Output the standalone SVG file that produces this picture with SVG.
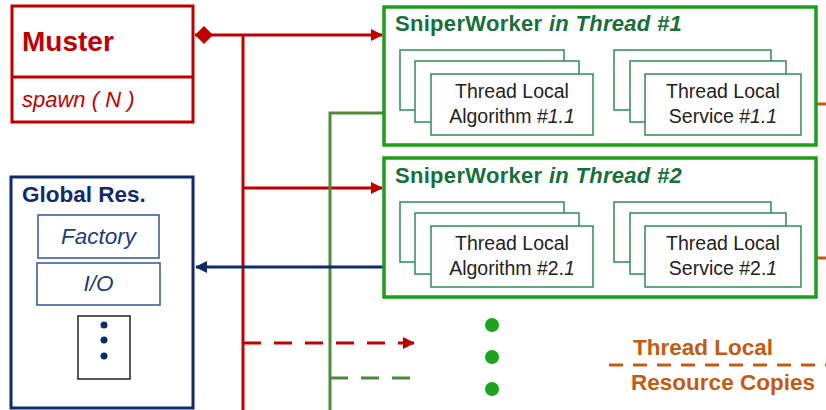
<svg xmlns="http://www.w3.org/2000/svg" width="826" height="410" viewBox="0 0 826 410">
  <style>
    text { font-family: "Liberation Sans", Arial, sans-serif; }
    .red { stroke: #c00000; stroke-width: 3; fill: none; }
    .muster { fill: #fff; stroke: #c00000; stroke-width: 3; }
    .glob { fill: #fff; stroke: #0f2b6b; stroke-width: 3; }
    .gitem { fill: #fff; stroke: #2f5597; stroke-width: 1.5; }
    .worker { fill: #fff; stroke: #1ca01c; stroke-width: 3.5; }
    .tl { fill: #fff; stroke: #2e8b57; stroke-width: 1.5; }
    .tltext { font-size: 19.5px; fill: #222; text-anchor: middle; }
    .wtitle { font-size: 22px; font-weight: bold; fill: #17703a; letter-spacing: 0.3px; }
    .orange { stroke: #c55a11; stroke-width: 3; fill: none; }
    .olive { stroke: #4e8a3a; stroke-width: 3; fill: none; }
    .navy { stroke: #0f2b6b; stroke-width: 3; fill: none; }
  </style>
  <defs>
    <marker id="ahRed" markerWidth="12" markerHeight="12" refX="11" refY="6" orient="auto" markerUnits="userSpaceOnUse">
      <path d="M0,0 L12,6 L0,12 z" fill="#c00000"/>
    </marker>
    <marker id="ahNavy" markerWidth="12" markerHeight="12" refX="11" refY="6" orient="auto" markerUnits="userSpaceOnUse">
      <path d="M0,0 L12,6 L0,12 z" fill="#0f2b6b"/>
    </marker>
    <marker id="diamond" markerWidth="20" markerHeight="20" refX="1" refY="10" orient="auto" markerUnits="userSpaceOnUse">
      <path d="M1,10 L10,1 L19,10 L10,19 z" fill="#c00000"/>
    </marker>
  </defs>

  <!-- connectors -->
  <g id="connectors">
    <line class="red" x1="195" y1="35" x2="382" y2="35" marker-start="url(#diamond)" marker-end="url(#ahRed)"/>
    <line class="red" x1="243" y1="35" x2="243" y2="410"/>
    <line class="red" x1="243" y1="188" x2="382" y2="188" marker-end="url(#ahRed)"/>
    <line class="red" x1="243" y1="343" x2="414" y2="343" stroke-dasharray="18,13" marker-end="url(#ahRed)"/>
    <polyline class="olive" points="384,113 330,113 330,410"/>
    <line class="olive" x1="330" y1="378" x2="410" y2="378" stroke-dasharray="18,13"/>
    <line class="navy" x1="383" y1="267" x2="196" y2="267" marker-end="url(#ahNavy)"/>
    <line class="orange" x1="801" y1="104" x2="826" y2="104"/>
    <line class="orange" x1="801" y1="258" x2="826" y2="258"/>
    <line class="orange" x1="609" y1="365" x2="826" y2="365" stroke-dasharray="14,10"/>
  </g>

  <!-- Muster -->
  <g id="muster">
    <rect class="muster" x="12" y="6" width="181" height="116"/>
    <line x1="12" y1="77" x2="193" y2="77" stroke="#c00000" stroke-width="3"/>
    <text x="22" y="51" font-size="28" font-weight="bold" fill="#c00000">Muster</text>
    <text x="22" y="107" font-size="22" font-style="italic" fill="#c00000">spawn ( N )</text>
  </g>

  <!-- Global resources -->
  <g id="global-res">
    <rect class="glob" x="11" y="177" width="182" height="231"/>
    <text x="22" y="202" font-size="22.5" font-weight="bold" fill="#0f2b6b">Global Res.</text>
    <g id="factory">
      <rect class="gitem" x="38" y="215" width="121" height="43"/>
      <text x="98.5" y="244" font-size="22.5" font-style="italic" fill="#1f3c7a" text-anchor="middle">Factory</text>
    </g>
    <g id="io">
      <rect class="gitem" x="37" y="263" width="123" height="42"/>
      <text x="98.5" y="291" font-size="22.5" font-style="italic" fill="#1f3c7a" text-anchor="middle">I/O</text>
    </g>
    <g id="more">
      <rect x="78" y="316" width="52" height="63" fill="#fff" stroke="#222" stroke-width="1.5"/>
      <circle cx="104" cy="325" r="3.5" fill="#0f2b6b"/>
      <circle cx="104" cy="340" r="3.5" fill="#0f2b6b"/>
      <circle cx="104" cy="356" r="3.5" fill="#0f2b6b"/>
    </g>
  </g>

  <!-- Worker thread 1 -->
  <g id="worker1">
    <rect class="worker" x="384" y="7" width="432" height="138"/>
    <text class="wtitle" x="395" y="31">SniperWorker <tspan font-style="italic">in Thread #1</tspan></text>
    <g id="alg1">
      <rect class="tl" x="400" y="50" width="164" height="60"/>
      <rect class="tl" x="415" y="61" width="164" height="61"/>
      <rect class="tl" x="431" y="74" width="162" height="61"/>
      <text class="tltext" x="512" y="98">Thread Local</text>
      <text class="tltext" x="512" y="123">Algorithm #<tspan font-style="italic">1.1</tspan></text>
    </g>
    <g id="svc1">
      <rect class="tl" x="614" y="50" width="157" height="60"/>
      <rect class="tl" x="630" y="61" width="156" height="61"/>
      <rect class="tl" x="645" y="74" width="156" height="61"/>
      <text class="tltext" x="723" y="98">Thread Local</text>
      <text class="tltext" x="723" y="123">Service #<tspan font-style="italic">1.1</tspan></text>
    </g>
  </g>

  <!-- Worker thread 2 -->
  <g id="worker2">
    <rect class="worker" x="384" y="158" width="432" height="139"/>
    <text class="wtitle" x="395" y="183">SniperWorker <tspan font-style="italic">in Thread #2</tspan></text>
    <g id="alg2">
      <rect class="tl" x="400" y="202" width="164" height="60"/>
      <rect class="tl" x="415" y="213" width="164" height="61"/>
      <rect class="tl" x="431" y="226" width="162" height="61"/>
      <text class="tltext" x="512" y="250">Thread Local</text>
      <text class="tltext" x="512" y="275">Algorithm #2.<tspan font-style="italic">1</tspan></text>
    </g>
    <g id="svc2">
      <rect class="tl" x="614" y="202" width="157" height="60"/>
      <rect class="tl" x="630" y="213" width="156" height="61"/>
      <rect class="tl" x="645" y="226" width="156" height="61"/>
      <text class="tltext" x="723" y="250">Thread Local</text>
      <text class="tltext" x="723" y="275">Service #2.<tspan font-style="italic">1</tspan></text>
    </g>
  </g>

  <!-- further workers -->
  <g id="ellipsis">
    <circle cx="492" cy="325" r="7" fill="#1ca51c"/>
    <circle cx="492" cy="357" r="7" fill="#1ca51c"/>
    <circle cx="492" cy="389" r="7" fill="#1ca51c"/>
  </g>

  <!-- legend -->
  <g id="legend">
    <text x="703" y="355" font-size="22.5" font-weight="bold" fill="#c55a11" text-anchor="middle">Thread Local</text>
    <text x="723" y="390" font-size="22.5" font-weight="bold" fill="#c55a11" text-anchor="middle">Resource Copies</text>
  </g>
</svg>
